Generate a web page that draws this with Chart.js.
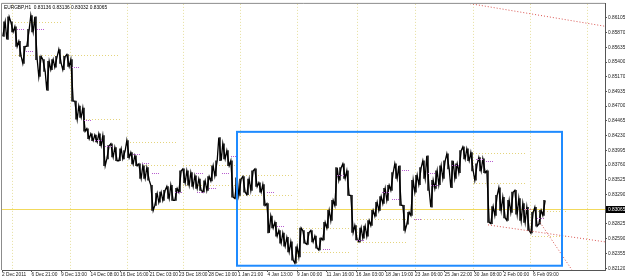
<!DOCTYPE html>
<html>
<head>
<meta charset="utf-8">
<script src="https://cdn.jsdelivr.net/npm/chart.js@4/dist/chart.umd.min.js"></script>
<style>
html, body { margin: 0; padding: 0; background: #fff; }
#wrap { width: 625px; height: 279px; }
</style>
</head>
<body>
<div id="wrap"><canvas id="chart" width="625" height="279"></canvas></div>
<script>
// EURGBP,H1 - each column below groups a few hourly bars (high / low)
var highs = [
  0.8604, 0.8612, 0.8604, 0.8596, 0.8573, 0.8565, 0.8592, 0.8614, 0.8612, 0.8549,
  0.8544, 0.8541, 0.8544, 0.8549, 0.8560, 0.8549, 0.8552, 0.8544, 0.8478, 0.8470,
  0.8467, 0.8434, 0.8426, 0.8424, 0.8426, 0.8423, 0.8407, 0.8410, 0.8404, 0.8402,
  0.8399, 0.8415, 0.8396, 0.8391, 0.8378, 0.8375, 0.8372, 0.8344, 0.8331, 0.8333,
  0.8336, 0.8342, 0.8344, 0.8339, 0.8367, 0.8370, 0.8367, 0.8364, 0.8359, 0.8354,
  0.8351, 0.8358, 0.8375, 0.8383, 0.8420, 0.8410, 0.8399, 0.8383, 0.8356, 0.8354,
  0.8358, 0.8354, 0.8367, 0.8370, 0.8348, 0.8345, 0.8315, 0.8295, 0.8285, 0.8272,
  0.8268, 0.8261, 0.8254, 0.8246, 0.8276, 0.8272, 0.8269, 0.8272, 0.8263, 0.8260,
  0.8285, 0.8304, 0.8320, 0.8372, 0.8372, 0.8378, 0.8367, 0.8328, 0.8280, 0.8276,
  0.8279, 0.8288, 0.8304, 0.8317, 0.8326, 0.8339, 0.8344, 0.8364, 0.8378, 0.8375,
  0.8312, 0.8301, 0.8352, 0.8360, 0.8372, 0.8383, 0.8391, 0.8352, 0.8367, 0.8375,
  0.8383, 0.8394, 0.8383, 0.8378, 0.8399, 0.8405, 0.8402, 0.8396, 0.8378, 0.8388,
  0.8386, 0.8367, 0.8310, 0.8328, 0.8340, 0.8325, 0.8320, 0.8333, 0.8336, 0.8323,
  0.8315, 0.8309, 0.8301, 0.8309, 0.8304, 0.8320
];
var lows = [
  0.8581, 0.8576, 0.8588, 0.8565, 0.8549, 0.8538, 0.8565, 0.8588, 0.8544, 0.8517,
  0.8525, 0.8495, 0.8528, 0.8532, 0.8538, 0.8528, 0.8533, 0.8478, 0.8449, 0.8452,
  0.8430, 0.8418, 0.8415, 0.8413, 0.8407, 0.8375, 0.8386, 0.8389, 0.8383, 0.8383,
  0.8386, 0.8388, 0.8378, 0.8375, 0.8355, 0.8355, 0.8352, 0.8304, 0.8312, 0.8317,
  0.8320, 0.8323, 0.8320, 0.8320, 0.8333, 0.8348, 0.8344, 0.8342, 0.8339, 0.8336,
  0.8333, 0.8336, 0.8351, 0.8359, 0.8383, 0.8386, 0.8375, 0.8325, 0.8323, 0.8328,
  0.8333, 0.8329, 0.8336, 0.8342, 0.8333, 0.8312, 0.8268, 0.8276, 0.8263, 0.8252,
  0.8247, 0.8238, 0.8225, 0.8220, 0.8230, 0.8252, 0.8250, 0.8254, 0.8244, 0.8241,
  0.8257, 0.8276, 0.8288, 0.8312, 0.8352, 0.8355, 0.8328, 0.8269, 0.8257, 0.8254,
  0.8260, 0.8263, 0.8280, 0.8295, 0.8304, 0.8315, 0.8320, 0.8336, 0.8355, 0.8312,
  0.8272, 0.8282, 0.8296, 0.8333, 0.8345, 0.8355, 0.8336, 0.8309, 0.8339, 0.8345,
  0.8355, 0.8370, 0.8340, 0.8355, 0.8364, 0.8386, 0.8383, 0.8367, 0.8352, 0.8367,
  0.8364, 0.8285, 0.8283, 0.8296, 0.8304, 0.8292, 0.8288, 0.8301, 0.8298, 0.8288,
  0.8285, 0.8272, 0.8268, 0.8279, 0.8282, 0.8296
];

var dateLabels = ['2 Dec 2011', '6 Dec 21:00', '9 Dec 13:00', '14 Dec 08:00', '16 Dec 16:00',
  '21 Dec 03:00', '23 Dec 18:00', '28 Dec 10:00', '1 Jan 21:00', '4 Jan 13:00', '9 Jan 00:00',
  '11 Jan 16:00', '16 Jan 03:00', '18 Jan 19:00', '23 Jan 06:00', '25 Jan 22:00',
  '30 Jan 08:00', '2 Feb 00:00', '6 Feb 09:00'];
var priceTicks = [0.86105, 0.85870, 0.85635, 0.85400, 0.85170, 0.84935, 0.84700, 0.84465,
  0.84230, 0.83995, 0.83760, 0.83525, 0.83290, 0.82825, 0.82590, 0.82355, 0.82120];

var symbol = 'EURGBP,H1';
var lastBar = [0.83136, 0.83136, 0.83032, 0.83065]; // open high low close
var lastPrice = 0.83065;

// week separators (column index)
var weekStarts = [2, 16.5, 30.75, 44.75, 59, 73.25, 88.25, 102.75, 117.25, 131.5, 145.75];

// previous range levels: from column, to column, price
var levelFrom = [2, 2, 19.75, 30.75, 30.75, 44.75, 44.75, 59, 59, 73.25, 73.25, 88.25, 88.25, 102.75, 117.25, 117.25, 132, 132];
var levelTo = [14.75, 29, 29, 43.5, 43.5, 58.5, 58.5, 72, 72, 86.5, 86.5, 100.75, 100.75, 115.25, 130.25, 130.25, 141, 141];
var levelPrice = [0.8603, 0.8552, 0.8450, 0.8413, 0.8377, 0.8377, 0.8344, 0.8360, 0.8329, 0.8276,
  0.8238, 0.8290, 0.8254, 0.8290, 0.8396, 0.8348, 0.8303, 0.8263];

// small pivot marks
var markBar = [4, 9, 6.25, 17.75, 20.75, 23.5, 26, 33, 35.25, 37.75, 43.5, 48.75, 49, 52, 55.25,
  57.5, 66.5, 69, 80.5, 84, 89, 95.25, 97.75, 100.25, 103.25, 106.75, 107.5, 112.75, 118.75,
  121.25, 130.75, 134];
var markPrice = [0.8593, 0.8593, 0.8557, 0.8532, 0.8448, 0.8416, 0.8407, 0.8394, 0.8380, 0.8364,
  0.8333, 0.8363, 0.8333, 0.8339, 0.8363, 0.8391, 0.8334, 0.8279, 0.8243, 0.8361, 0.8257,
  0.8333, 0.8322, 0.8369, 0.8290, 0.8364, 0.8344, 0.8377, 0.8386, 0.8383, 0.8306, 0.8292];

// trend lines: two anchors each
var trendBar1 = [116.5, 121, 134];
var trendPrice1 = [0.8633, 0.8281, 0.8285];
var trendBar2 = [150.25, 150.25, 142.75];
var trendPrice2 = [0.8597, 0.8254, 0.8202];

// rectangle
var boxBars = [58.25, 139.5];
var boxPrices = [0.8429, 0.8216];

// floating high-low bars
var bars = highs.map(function (h, i) {
  return { x: i, y: [lows[i], h] };
});
// path through each column's extremes, in the order the move went
var path = [];
highs.forEach(function (h, i) {
  var mid = (h + lows[i]) / 2;
  var next = i + 1 < highs.length ? (highs[i + 1] + lows[i + 1]) / 2 : mid;
  if (next < mid) {
    path.push({ x: i - 0.3, y: h }, { x: i + 0.3, y: lows[i] });
  } else {
    path.push({ x: i - 0.3, y: lows[i] }, { x: i + 0.3, y: h });
  }
});

var font = { family: 'Liberation Sans', size: 4.8 };

var overlays = {
  id: 'overlays',
  beforeDatasetsDraw: function (chart) {
    var ctx = chart.ctx, xs = chart.scales.x, ys = chart.scales.y, a = chart.chartArea;
    ctx.save();
    ctx.beginPath();
    ctx.rect(a.left, a.top, a.right - a.left, a.bottom - a.top);
    ctx.clip();
    ctx.lineWidth = 1;
    ctx.setLineDash([1, 2]);
    ctx.strokeStyle = '#e6df9f';
    weekStarts.forEach(function (b) {
      var x = Math.round(xs.getPixelForValue(b)) + 0.5;
      ctx.beginPath();
      ctx.moveTo(x, a.top);
      ctx.lineTo(x, a.bottom);
      ctx.stroke();
    });
    ctx.strokeStyle = '#e4d47c';
    levelPrice.forEach(function (p, i) {
      var y = Math.round(ys.getPixelForValue(p)) + 0.5;
      ctx.beginPath();
      ctx.moveTo(xs.getPixelForValue(levelFrom[i]), y);
      ctx.lineTo(xs.getPixelForValue(levelTo[i]), y);
      ctx.stroke();
    });
    ctx.setLineDash([]);
    ctx.strokeStyle = '#f2d95c';
    var ly = Math.round(ys.getPixelForValue(lastPrice)) + 0.5;
    ctx.beginPath();
    ctx.moveTo(a.left, ly);
    ctx.lineTo(a.right, ly);
    ctx.stroke();
    ctx.restore();
  },
  afterDatasetsDraw: function (chart) {
    var ctx = chart.ctx, xs = chart.scales.x, ys = chart.scales.y, a = chart.chartArea;
    ctx.save();
    ctx.beginPath();
    ctx.rect(a.left, a.top, a.right - a.left, a.bottom - a.top);
    ctx.clip();
    // pivot marks
    ctx.strokeStyle = '#b85ed0';
    ctx.lineWidth = 1;
    ctx.setLineDash([1, 1]);
    markBar.forEach(function (b, i) {
      var x = xs.getPixelForValue(b), y = Math.round(ys.getPixelForValue(markPrice[i])) + 0.5;
      ctx.beginPath();
      ctx.moveTo(x - 3, y);
      ctx.lineTo(x + 4, y);
      ctx.stroke();
    });
    // trend lines
    ctx.strokeStyle = '#d9534f';
    ctx.setLineDash([1, 2]);
    trendBar1.forEach(function (b, i) {
      ctx.beginPath();
      ctx.moveTo(xs.getPixelForValue(b), ys.getPixelForValue(trendPrice1[i]));
      ctx.lineTo(xs.getPixelForValue(trendBar2[i]), ys.getPixelForValue(trendPrice2[i]));
      ctx.stroke();
    });
    // rectangle
    ctx.setLineDash([]);
    ctx.strokeStyle = '#1f8bff';
    ctx.lineWidth = 2;
    var x1 = xs.getPixelForValue(boxBars[0]), x2 = xs.getPixelForValue(boxBars[1]);
    var y1 = ys.getPixelForValue(boxPrices[0]), y2 = ys.getPixelForValue(boxPrices[1]);
    ctx.strokeRect(x1, y1, x2 - x1, y2 - y1);
    ctx.restore();
  },
  afterDraw: function (chart) {
    var ctx = chart.ctx, ys = chart.scales.y, a = chart.chartArea;
    ctx.save();
    // frame top / left
    ctx.strokeStyle = '#8c8c8c';
    ctx.lineWidth = 1;
    ctx.beginPath();
    ctx.moveTo(a.left - 0.5, a.bottom);
    ctx.lineTo(a.left - 0.5, a.top - 0.5);
    ctx.lineTo(a.right, a.top - 0.5);
    ctx.stroke();
    // title
    ctx.fillStyle = '#000';
    ctx.font = '4.8px "Liberation Sans"';
    ctx.textBaseline = 'middle';
    ctx.textAlign = 'left';
    ctx.fillText(symbol + '  ' + lastBar.map(function (v) { return v.toFixed(5); }).join(' '), a.left + 2, a.top + 4);
    // last price label
    var y = Math.round(ys.getPixelForValue(lastPrice));
    ctx.fillStyle = '#000';
    ctx.fillRect(a.right + 1, y - 3, 19, 7);
    ctx.fillStyle = '#fff';
    ctx.fillText(lastPrice.toFixed(5), a.right + 3, y + 0.5);
    ctx.restore();
  }
};

new Chart(document.getElementById('chart'), {
  type: 'bar',
  data: {
    datasets: [{
      type: 'line',
      data: path,
      borderColor: '#000',
      borderWidth: 1.3,
      pointRadius: 0,
      tension: 0,
      order: 0
    }, {
      data: bars,
      backgroundColor: '#222',
      borderWidth: 0,
      barThickness: 1,
      order: 1
    }]
  },
  options: {
    responsive: false,
    animation: false,
    layout: { padding: { left: 2, top: 2, right: 0, bottom: 0 } },
    plugins: { legend: { display: false }, tooltip: { enabled: false } },
    scales: {
      x: {
        type: 'linear',
        min: -0.5,
        max: 150.25,
        offset: false,
        afterBuildTicks: function (scale) {
          scale.ticks = dateLabels.map(function (l, k) { return { value: -0.5 + k * 7.375 }; });
        },
        afterFit: function (scale) { scale.height = 9; },
        grid: { offset: false, drawOnChartArea: false, tickLength: 2, color: '#555' },
        border: { color: '#555' },
        ticks: {
          autoSkip: false,
          maxRotation: 0,
          align: 'start',
          padding: 0,
          font: font,
          color: '#222',
          callback: function (v, i) { return dateLabels[i]; }
        }
      },
      y: {
        position: 'right',
        min: 0.82092,
        max: 0.86326,
        afterBuildTicks: function (scale) {
          scale.ticks = priceTicks.map(function (v) { return { value: v }; });
        },
        afterFit: function (scale) { scale.width = 20; },
        grid: { drawOnChartArea: false, tickLength: 2, color: '#555' },
        border: { color: '#555' },
        ticks: {
          padding: 1,
          font: font,
          color: '#222',
          callback: function (v) { return v.toFixed(5); }
        }
      }
    }
  },
  plugins: [overlays]
});
</script>
</body>
</html>
